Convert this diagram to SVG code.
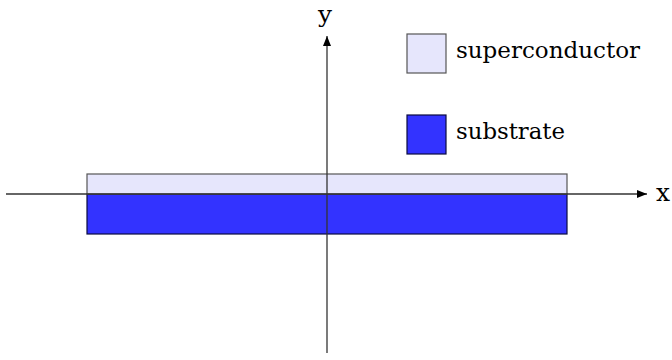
<svg xmlns="http://www.w3.org/2000/svg" width="672" height="360" viewBox="0 0 672 360">
<style>
text{font-family:'DejaVu Serif','Liberation Serif',serif;fill:#000}
.axis{stroke:#333;stroke-width:1.3;fill:none}
.sc{fill:#e6e6fc;stroke:#555;stroke-width:1.2}
.sub{fill:#3333ff;stroke:#0a0a40;stroke-width:1.2}
</style>
<defs>
<marker id="arr" viewBox="0 0 10 8" refX="10" refY="4" markerWidth="10" markerHeight="8" markerUnits="userSpaceOnUse" orient="auto">
<path d="M0,0 L10,4 L0,8 Z" fill="#000"/>
</marker>
</defs>
<g id="substrate">
<rect class="sub" x="87" y="194" width="480" height="40"/>
</g>
<g id="superconductor">
<rect class="sc" x="87" y="174" width="480" height="20"/>
</g>
<g id="connectors">
<line class="axis" x1="6" y1="194" x2="647" y2="194" marker-end="url(#arr)"/>
<line class="axis" x1="327" y1="353" x2="327" y2="36" marker-end="url(#arr)"/>
</g>
<g id="x-label"><text x="656" y="201" font-size="24" textLength="14" lengthAdjust="spacingAndGlyphs">x</text></g>
<g id="y-label"><text x="318" y="22" font-size="23" textLength="14" lengthAdjust="spacingAndGlyphs">y</text></g>
<g id="legend-superconductor">
<rect class="sc" x="407" y="34" width="39" height="39"/>
<text x="456" y="58" font-size="22" textLength="184" lengthAdjust="spacingAndGlyphs">superconductor</text>
</g>
<g id="legend-substrate">
<rect class="sub" x="407" y="115" width="39" height="39"/>
<text x="456" y="139" font-size="22" textLength="109" lengthAdjust="spacingAndGlyphs">substrate</text>
</g>
</svg>
